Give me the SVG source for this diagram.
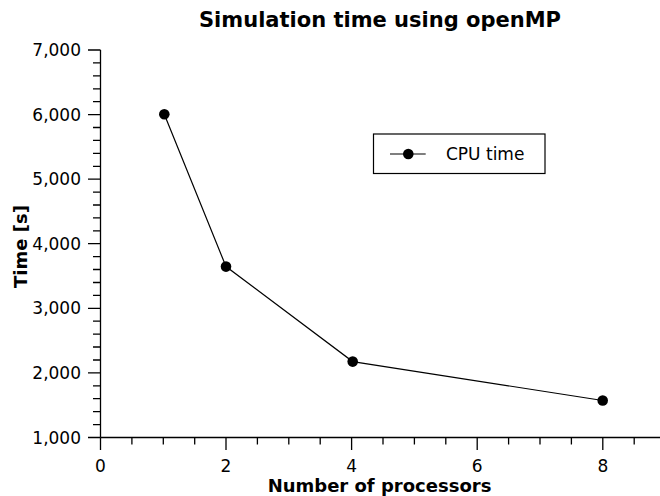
<svg xmlns="http://www.w3.org/2000/svg" width="660" height="496" viewBox="0 0 660 496">
<style>
text{font-family:"DejaVu Sans","Liberation Sans",sans-serif;fill:#000}
.tl{font-size:17px}
.al{font-size:18px;font-weight:bold}
.yl{text-anchor:end}
.xl{text-anchor:middle}
.b{font-weight:bold}
.ax{stroke:#000;stroke-width:1.3;fill:none}
.tk{stroke:#000;stroke-width:1.3}
.ln{stroke:#000;stroke-width:1.2;fill:none}
.mk{fill:#000}
</style>
<rect width="660" height="496" fill="#fff"/>
<g id="title"><text x="380" y="27" class="b xl" font-size="21">Simulation time using openMP</text></g>
<g id="y-axis">
<path class="ax" d="M100.5 50V437.5"/>
<path class="tk" d="M88 50H100.5M88 114.6H100.5M88 179.2H100.5M88 243.7H100.5M88 308.3H100.5M88 372.9H100.5M88 437.5H100.5"/>
<path class="tk" d="M93 62.9H100.5M93 75.8H100.5M93 88.8H100.5M93 101.7H100.5M93 127.5H100.5M93 140.4H100.5M93 153.3H100.5M93 166.3H100.5M93 192.1H100.5M93 205H100.5M93 217.9H100.5M93 230.8H100.5M93 256.6H100.5M93 269.5H100.5M93 282.5H100.5M93 295.4H100.5M93 321.2H100.5M93 334.1H100.5M93 347H100.5M93 360H100.5M93 385.8H100.5M93 398.7H100.5M93 411.6H100.5M93 424.6H100.5"/>
<text class="tl yl" x="81" y="56">7,000</text>
<text class="tl yl" x="81" y="120.6">6,000</text>
<text class="tl yl" x="81" y="185.2">5,000</text>
<text class="tl yl" x="81" y="249.7">4,000</text>
<text class="tl yl" x="81" y="314.3">3,000</text>
<text class="tl yl" x="81" y="378.9">2,000</text>
<text class="tl yl" x="81" y="443.5">1,000</text>
<text class="al xl" transform="translate(26.5 246.5) rotate(-90)">Time [s]</text>
</g>
<g id="x-axis">
<path class="ax" d="M100.5 437.5H660"/>
<path class="tk" d="M100.5 437.5V450M226 437.5V450M351.6 437.5V450M477.2 437.5V450M602.8 437.5V450"/>
<path class="tk" d="M131.9 437.5V444.5M163.3 437.5V444.5M194.7 437.5V444.5M257.4 437.5V444.5M288.8 437.5V444.5M320.2 437.5V444.5M383 437.5V444.5M414.4 437.5V444.5M445.8 437.5V444.5M508.6 437.5V444.5M540 437.5V444.5M571.4 437.5V444.5M634.2 437.5V444.5"/>
<text class="tl xl" x="100.5" y="472">0</text>
<text class="tl xl" x="226" y="472">2</text>
<text class="tl xl" x="351.6" y="472">4</text>
<text class="tl xl" x="477.2" y="472">6</text>
<text class="tl xl" x="602.8" y="472">8</text>
<text class="al xl" x="379.5" y="492">Number of processors</text>
</g>
<g id="series">
<path class="ln" d="M164.3 114.3L226 266.6L352.7 361.6L602.7 400.5"/>
<circle class="mk" cx="164.3" cy="114.3" r="5.3"/>
<circle class="mk" cx="226" cy="266.6" r="5.3"/>
<circle class="mk" cx="352.7" cy="361.6" r="5.3"/>
<circle class="mk" cx="602.7" cy="400.5" r="5.3"/>
</g>
<g id="legend">
<rect x="373.5" y="134" width="171.5" height="39.5" fill="#fff" stroke="#000" stroke-width="1.2"/>
<path class="ln" d="M390 154H425.7"/>
<circle class="mk" cx="408.3" cy="154" r="5.3"/>
<text class="tl" x="446" y="160">CPU time</text>
</g>
</svg>
